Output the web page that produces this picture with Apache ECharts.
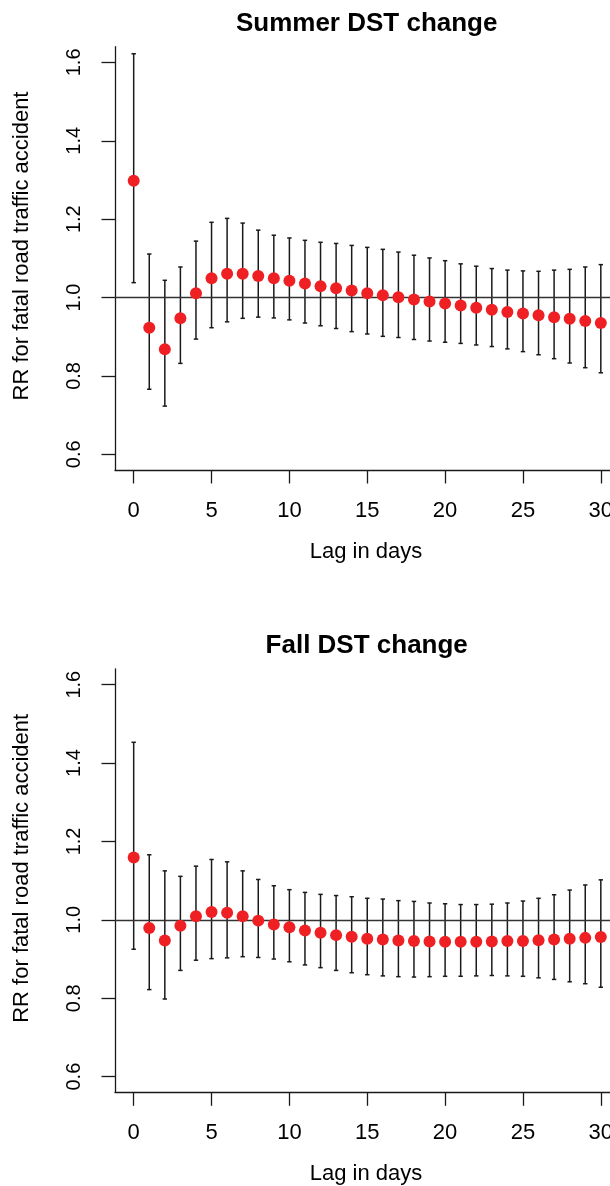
<!DOCTYPE html>
<html>
<head>
<meta charset="utf-8">
<script src="https://cdn.jsdelivr.net/npm/echarts@6/dist/echarts.min.js"></script>
<style>
html,body{margin:0;padding:0;background:#fff;}
#chart{width:610px;height:1186px;}
</style>
</head>
<body>
<div id="chart"></div>
<script>
// ---- data ----
var lags = [0,1,2,3,4,5,6,7,8,9,10,11,12,13,14,15,16,17,18,19,20,21,22,23,24,25,26,27,28,29,30];
var summerRR = [1.298,0.923,0.868,0.947,1.011,1.049,1.061,1.061,1.055,1.049,1.043,1.036,1.029,1.024,1.018,1.011,1.006,1.001,0.995,0.990,0.985,0.980,0.974,0.969,0.963,0.959,0.955,0.950,0.946,0.940,0.935];
var summerLo = [1.038,0.766,0.723,0.832,0.894,0.923,0.938,0.947,0.950,0.948,0.943,0.935,0.928,0.921,0.913,0.907,0.901,0.898,0.893,0.889,0.886,0.883,0.879,0.875,0.869,0.862,0.854,0.844,0.833,0.821,0.808];
var summerHi = [1.622,1.111,1.044,1.078,1.144,1.192,1.202,1.190,1.172,1.159,1.152,1.146,1.141,1.138,1.133,1.128,1.123,1.116,1.108,1.101,1.094,1.086,1.080,1.074,1.070,1.068,1.067,1.070,1.072,1.078,1.084];
var fallRR = [1.159,0.979,0.947,0.985,1.009,1.020,1.018,1.009,0.998,0.988,0.981,0.973,0.967,0.961,0.957,0.952,0.950,0.947,0.946,0.945,0.944,0.944,0.944,0.945,0.946,0.946,0.948,0.950,0.952,0.954,0.956];
var fallLo = [0.925,0.822,0.798,0.871,0.897,0.901,0.903,0.906,0.904,0.900,0.893,0.885,0.878,0.871,0.865,0.860,0.857,0.855,0.854,0.855,0.856,0.856,0.857,0.858,0.857,0.856,0.852,0.848,0.842,0.837,0.828];
var fallHi = [1.453,1.166,1.125,1.111,1.137,1.154,1.148,1.125,1.103,1.087,1.077,1.070,1.065,1.062,1.059,1.055,1.053,1.049,1.047,1.043,1.041,1.039,1.039,1.040,1.043,1.048,1.055,1.064,1.076,1.089,1.102];
var xTicks = [0,5,10,15,20,25,30];
var yTicks = [0.6,0.8,1.0,1.2,1.4,1.6];
var titles = ['Summer DST change','Fall DST change'];
var xName = 'Lag in days';
var yName = 'RR for fatal road traffic accident';
var refLine = 1.0;

// ---- chart ----
var FONT = '"Liberation Sans", Arial, Helvetica, sans-serif';
var INK = '#1a1a1a';
var RED = '#ee2024';
var chart = echarts.init(document.getElementById('chart'), null, {renderer:'canvas'});

var gridTops = [46.7, 669];
var gridH = 423.3;

function errData(lo, hi){
  return lags.map(function(l,i){ return [l, lo[i], hi[i]]; });
}
function ptData(rr){
  return lags.map(function(l,i){ return [l, rr[i]]; });
}
function renderErr(params, api){
  var x = api.value(0), lo = api.value(1), hi = api.value(2);
  var a = api.coord([x, lo]), b = api.coord([x, hi]);
  var hw = 2.2;
  var st = {stroke: INK, lineWidth: 1.5};
  return {type:'group', children:[
    {type:'line', shape:{x1:a[0], y1:a[1], x2:b[0], y2:b[1]}, style:st},
    {type:'line', shape:{x1:a[0]-hw, y1:a[1], x2:a[0]+hw, y2:a[1]}, style:st},
    {type:'line', shape:{x1:b[0]-hw, y1:b[1], x2:b[0]+hw, y2:b[1]}, style:st}
  ]};
}

var grids = [], xAxes = [], yAxes = [], series = [], graphics = [];
var sets = [[summerRR, summerLo, summerHi],[fallRR, fallLo, fallHi]];
for (var k = 0; k < 2; k++){
  grids.push({left:115, top:gridTops[k], width:504.5, height:gridH, containLabel:false, outerBoundsMode:'none'});
  xAxes.push({
    type:'value', gridIndex:k, min:-1.2, max:31.2,
    splitLine:{show:false},
    axisLine:{show:true, onZero:false, lineStyle:{color:INK, width:1.3}},
    axisTick:{show:true, customValues:xTicks, length:13.5, lineStyle:{color:INK, width:1.3}},
    axisLabel:{show:true, customValues:xTicks, margin:30, color:'#000', fontSize:22, fontFamily:FONT, hideOverlap:false}
  });
  yAxes.push({
    type:'value', gridIndex:k, min:0.56, max:1.64,
    splitLine:{show:false},
    axisLine:{show:true, onZero:false, lineStyle:{color:INK, width:1.3}},
    axisTick:{show:true, customValues:yTicks, length:13.5, lineStyle:{color:INK, width:1.3}},
    axisLabel:{show:true, customValues:yTicks, rotate:90, margin:31, color:'#000', fontSize:20, fontFamily:FONT,
      formatter:function(v){ return Number(v).toFixed(1); }}
  });
  series.push({
    type:'custom', xAxisIndex:k, yAxisIndex:k, z:2,
    renderItem:renderErr, data:errData(sets[k][1], sets[k][2]),
    encode:{x:0, y:[1,2]}, silent:true, clip:false,
    markLine:{silent:true, symbol:['none','none'], label:{show:false},
      lineStyle:{color:'#333', width:1.4, type:'solid'},
      data:[{yAxis:refLine}], animation:false}
  });
  series.push({
    type:'scatter', xAxisIndex:k, yAxisIndex:k, z:5,
    symbol:'circle', symbolSize:12,
    itemStyle:{color:RED, opacity:1},
    data:ptData(sets[k][0]), silent:true
  });
  var off = gridTops[k] - gridTops[0];
  graphics.push({type:'text', x:366.7, y:24+off, silent:true,
    style:{text:titles[k], font:'bold 26px ' + FONT, fill:'#000', textAlign:'center', textVerticalAlign:'middle'}});
  graphics.push({type:'text', x:366, y:552+off, silent:true,
    style:{text:xName, font:'22px ' + FONT, fill:'#000', textAlign:'center', textVerticalAlign:'middle'}});
  graphics.push({type:'text', x:22, y:246+off, rotation:Math.PI/2, silent:true,
    style:{text:yName, font:'22px ' + FONT, fill:'#000', textAlign:'center', textVerticalAlign:'middle'}});
}

chart.setOption({
  animation:false,
  backgroundColor:'#fff',
  grid:grids, xAxis:xAxes, yAxis:yAxes, series:series, graphic:graphics
});
</script>
</body>
</html>
